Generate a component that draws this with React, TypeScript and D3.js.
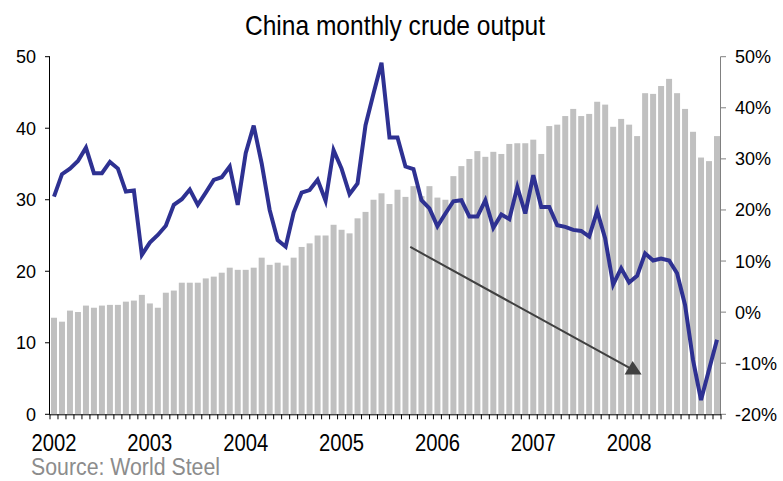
import React from "react";
import * as d3 from "d3";

const years = ["2002", "2003", "2004", "2005", "2006", "2007", "2008"];

// Monthly crude steel output (left axis, Mt)
const output = [
  13.5, 12.95, 14.5, 14.3, 15.2, 14.9, 15.2, 15.3, 15.3, 15.75, 15.9, 16.7,
  15.5, 14.9, 17.0, 17.3, 18.4, 18.4, 18.4, 19.0, 19.25, 19.8, 20.5, 20.2,
  20.2, 20.5, 21.9, 20.9, 21.2, 20.8, 21.9, 23.4, 23.9, 25.0, 25.0, 26.5,
  25.8, 25.3, 27.4, 28.3, 30.0, 30.9, 29.4, 31.4, 30.4, 31.9, 30.5, 31.9,
  30.3, 30.0, 33.3, 34.7, 35.7, 36.8, 36.0, 36.7, 36.4, 37.8, 37.9, 37.9,
  38.4, 36.4, 40.3, 40.5, 41.7, 42.7, 41.7, 42.0, 43.7, 43.3, 40.2, 41.3,
  40.5, 38.9, 44.9, 44.8, 45.9, 46.9, 44.9, 42.7, 39.5, 35.9, 35.4, 38.9,
];

// Year-on-year growth (right axis, %)
const growth = [
  22.6, 27.0, 28.1, 29.6, 32.2, 27.2, 27.2, 29.4, 28.1, 23.6, 23.8, 11.2,
  13.6, 15.1, 16.9, 21.0, 22.1, 24.0, 21.0, 23.4, 25.9, 26.4, 28.5, 21.0,
  31.1, 36.5, 29.1, 20.0, 14.1, 12.8, 19.5, 23.4, 23.9, 25.9, 21.8, 31.7,
  28.1, 23.1, 25.2, 36.6, 42.8, 48.8, 34.2, 34.2, 28.5, 28.0, 21.9, 20.3,
  16.8, 19.3, 21.7, 21.9, 18.7, 18.7, 21.9, 16.5, 19.1, 18.2, 24.5, 19.3,
  26.8, 20.6, 20.6, 17.0, 16.7, 16.1, 15.9, 14.8, 19.8, 14.4, 5.4, 8.6,
  5.8, 7.1, 11.5, 10.1, 10.5, 10.1, 7.6, 1.4, -9.4, -17.2, -11.3, -5.4,
];

const leftTicks = [0, 10, 20, 30, 40, 50];
const rightTicks = [-20, -10, 0, 10, 20, 30, 40, 50];

const arrowFrom = { month: 45.1, value: 23.4 };
const arrowTo = { month: 73.0, value: 6.2 };

const title = "China monthly crude output";
const source = "Source: World Steel";

export default function App() {
  const W = 783;
  const H = 481;
  const x0 = 50;
  const x1 = 721;
  const yTop = 56.7;
  const yBot = 414.3;

  const months = d3.range(output.length);
  const x = d3
    .scaleBand<number>()
    .domain(months)
    .range([x0, x1])
    .paddingInner(0.25)
    .paddingOuter(0.125);
  const xm = d3.scaleLinear().domain([0, output.length]).range([x0, x1]);
  const yL = d3.scaleLinear().domain([0, 50]).range([yBot, yTop]);
  const yR = d3.scaleLinear().domain([-20, 50]).range([yBot, yTop]);

  const cx = (i: number) => (x(i) as number) + x.bandwidth() / 2;
  const linePath = d3
    .line<number>()
    .x((_, i) => cx(i))
    .y((d) => yR(d))(growth) as string;

  const ax = xm(arrowFrom.month);
  const ay = yL(arrowFrom.value);
  const bx = xm(arrowTo.month);
  const by = yL(arrowTo.value);
  const tri = `M${bx - 8.5},${by + 4.5}L${bx + 8.5},${by + 4.5}L${bx - 0.5},${by - 9}Z`;

  const axisFont = "'Liberation Sans', Arial, sans-serif";
  const narrowFont = "'Liberation Sans', Arial, sans-serif";

  return (
    <svg
      width={W}
      height={H}
      style={{ position: "absolute", left: 0, top: 0, background: "#fff" }}
    >
      <text
        x={245}
        y={35}
        fontFamily={narrowFont}
        fontSize={28}
        fill="#000"
        textLength={300}
        lengthAdjust="spacingAndGlyphs"
      >
        {title}
      </text>

      {/* bars */}
      {output.map((v, i) => (
        <rect
          key={i}
          x={x(i)}
          y={yL(v)}
          width={x.bandwidth()}
          height={yL(0) - yL(v)}
          fill="#c0c0c0"
        />
      ))}

      {/* arrow */}
      <line x1={ax} y1={ay} x2={bx} y2={by} stroke="#404040" strokeWidth={2} />
      <path d={tri} fill="#404040" />

      {/* growth line */}
      <path
        d={linePath}
        fill="none"
        stroke="#2e3192"
        strokeWidth={4}
        strokeLinejoin="miter"
      />

      {/* left axis */}
      <line x1={x0 - 0.5} x2={x0 - 0.5} y1={yTop} y2={yBot} stroke="#000" strokeWidth={1} />
      {leftTicks.map((t) => (
        <g key={t}>
          <line x1={x0 - 5} x2={x0} y1={yL(t)} y2={yL(t)} stroke="#000" />
          <text
            x={36}
            y={yL(t) + 6.5}
            textAnchor="end"
            fontFamily={axisFont}
            fontSize={18}
            fill="#000"
          >
            {t}
          </text>
        </g>
      ))}

      {/* right axis */}
      <line x1={x1 - 0.5} x2={x1 - 0.5} y1={yTop} y2={yBot} stroke="#808080" strokeWidth={1} />
      {rightTicks.map((t) => (
        <g key={t}>
          <line x1={x1 - 0.5} x2={x1 + 5} y1={yR(t)} y2={yR(t)} stroke="#808080" />
          <text
            x={735}
            y={yR(t) + 6.5}
            textAnchor="start"
            fontFamily={axisFont}
            fontSize={18}
            fill="#000"
          >
            {`${t}%`}
          </text>
        </g>
      ))}

      {/* bottom axis */}
      <line x1={x0 - 0.5} x2={x1} y1={yBot + 0.5} y2={yBot + 0.5} stroke="#000" />
      {d3.range(output.length + 1).map((i) => (
        <line
          key={i}
          x1={xm(i)}
          x2={xm(i)}
          y1={yBot}
          y2={yBot + 5}
          stroke="#000"
          strokeWidth={1}
        />
      ))}
      {years.map((yr, k) => (
        <text
          key={yr}
          x={cx(k * 12) - 22.5}
          y={451}
          fontFamily={narrowFont}
          fontSize={23}
          fill="#000"
          textLength={45}
          lengthAdjust="spacingAndGlyphs"
        >
          {yr}
        </text>
      ))}

      <text
        x={31}
        y={475}
        fontFamily={narrowFont}
        fontSize={23}
        fill="#8c8c8c"
        textLength={189}
        lengthAdjust="spacingAndGlyphs"
      >
        {source}
      </text>
    </svg>
  );
}
